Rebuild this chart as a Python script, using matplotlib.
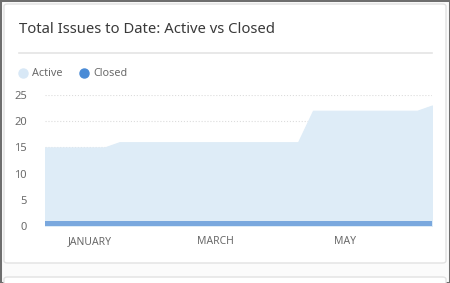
import matplotlib.pyplot as plt
from matplotlib.patches import FancyBboxPatch, Rectangle
import pandas as pd

plt.rcParams['font.family'] = ['Noto Sans', 'DejaVu Sans']

# --- datos (semanales) ---
fechas = pd.date_range('2018-12-11', periods=27, freq='7D')
activos = [15, 15, 15, 15, 15,
           16, 16, 16, 16, 16, 16, 16, 16, 16, 16, 16, 16, 16,
           22, 22, 22, 22, 22, 22, 22, 22,
           23]
cerrados = [1] * 27
meses = ['2019-01-01', '2019-03-01', '2019-05-01']
etiquetas_mes = ['JANUARY', 'MARCH', 'MAY']

col_activo = '#deecf7'
col_cerrado = '#7aa8de'
col_cerrado_dot = '#4a8bd6'

W, H = 450, 283
fig = plt.figure(figsize=(W / 100, H / 100), dpi=100, facecolor='#fbfbfb')

def fx(px):
    return px / W

def fy(py):
    return 1 - py / H

# marco exterior y tarjetas (detrás de los ejes)
fig.patches.append(Rectangle((0, 0), 1, 1, transform=fig.transFigure, zorder=-2,
                             fill=False, edgecolor='#6e6e6e', lw=2.2))
for (x0, y0, x1, y1) in [(4, 4, 446, 263), (4, 277, 446, 300)]:
    fig.patches.append(FancyBboxPatch((fx(x0), fy(y1)), fx(x1 - x0), (y1 - y0) / H,
                                      boxstyle='round,pad=0,rounding_size=0.008',
                                      transform=fig.transFigure, facecolor='white',
                                      edgecolor='#e2e2e2', lw=1.0, zorder=-1))

fig.text(fx(19), fy(29), 'Total Issues to Date: Active vs Closed',
         fontsize=10.7, color='#3a3a3a', va='center', ha='left')
fig.add_artist(plt.Line2D([fx(19), fx(432)], [fy(53), fy(53)],
                          transform=fig.transFigure, color='#e4e4e4', lw=1.2))

# leyenda
for cx, tx, lab, c in [(23, 32, 'Active', '#d8e8f6'), (84, 93, 'Closed', col_cerrado_dot)]:
    fig.add_artist(plt.Line2D([fx(cx)], [fy(73)], transform=fig.transFigure,
                              marker='o', markersize=6.5, color=c, lw=0))
    fig.text(fx(tx), fy(73), lab, fontsize=7.8, color='#6a6a6a', va='center', ha='left')

ax = fig.add_axes([fx(45), fy(226), fx(432 - 45), (226 - 95) / H])
ax.set_facecolor('none')
ax.set_axisbelow(True)
ax.fill_between(fechas, 0, activos, facecolor=col_activo, edgecolor=col_activo,
                lw=0.8, zorder=1)
ax.fill_between(fechas, 0, cerrados, color=col_cerrado, lw=0, zorder=2)

ax.set_xlim(fechas[0], fechas[-1])
ax.set_ylim(0, 25)
ax.set_yticks([0, 5, 10, 15, 20, 25])
ax.set_xticks(pd.to_datetime(meses))
ax.set_xticklabels(etiquetas_mes)
ax.grid(axis='y', linestyle=':', color='#dcdcdc', lw=0.8)
ax.grid(axis='x', visible=False)
ax.tick_params(axis='y', length=0, pad=13, labelsize=8, labelcolor='#6a6a6a')
ax.tick_params(axis='x', length=0, pad=7, labelsize=7.5, labelcolor='#6a6a6a')
for s in ax.spines.values():
    s.set_visible(False)

fig.savefig('out.png', dpi=100, facecolor=fig.get_facecolor())
